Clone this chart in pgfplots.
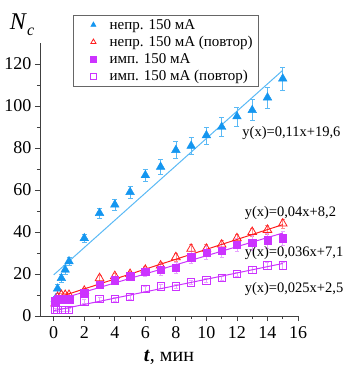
\documentclass[border=0pt]{standalone}
\usepackage{pgfplots}
\pgfplotsset{compat=1.18}
\usepackage{fontspec}
\setmainfont{Liberation Serif}
\definecolor{cblue}{RGB}{20,150,240}
\definecolor{lblue}{RGB}{90,185,245}
\definecolor{cred}{RGB}{255,30,30}
\definecolor{cmag}{RGB}{204,51,255}
\begin{document}
\begin{tikzpicture}[x=1pt,y=1pt]
\begin{axis}[
  scale only axis, width=258pt, height=273pt,
  xmin=-0.9, xmax=16, ymin=0, ymax=130,
  axis x line*=bottom, axis y line*=left,
  axis line style={black!75, line width=0.8pt},
  xtick={0,2,...,16}, ytick={0,20,...,120},
  xticklabels={0,2,4,6,8,10,12,14,16},
  yticklabels={0,20,40,60,80,100,120},
  minor xtick={1,3,...,15}, minor ytick={10,30,...,110},
  tick align=outside, major tick length=5pt, minor tick length=3pt,
  tick style={black!75, line width=0.8pt},
  ticklabel style={font=\fontsize{18}{20}\selectfont},
  xticklabel style={yshift=-2pt},
  xlabel={\textbf{\textit{t}}, мин},
  xlabel style={font=\fontsize{20}{22}\selectfont, yshift=-5pt},
  clip=false,
  legend cell align=left,
  legend style={at={(0.128,1.103)}, anchor=north west, draw=black!60,
    font=\fontsize{15}{18}\selectfont, row sep=1.5pt, inner xsep=4pt,
    inner ysep=2pt, /tikz/every even column/.append style={column sep=5pt}},
  legend image code/.code={\path (0pt,0pt) (30pt,0pt); \draw[#1, mark size=3pt] plot coordinates {(16pt,0pt)};},
]
% blue filled triangles
\addplot[only marks, mark=triangle*, mark size=5pt, color=cblue,
  error bars/.cd, y dir=both, y explicit,
  error bar style={lblue, line width=0.6pt}, error mark options={lblue, mark size=2.5pt, rotate=90}]
  table[x=x, y=y, y error=e] {
x y e
0.1 8 1.5
0.25 13 2
0.5 18 2
0.75 22 2
1 26 2
2 37 2
3 49 2.5
4 53 2.5
5 59 3
6 67 3
7 71 3.5
8 79 4
9 81 4
10 86 4
11 90 4.5
12 95 4.5
13 98 5
14 104 5
15 113 5.5
};
\addlegendentry{непр. 150 мА}
% red open triangles
\addplot[only marks, mark=triangle, mark size=5pt, color=cred, mark options={line width=0.8pt},
  error bars/.cd, y dir=both, y explicit,
  error bar style={cred!50, line width=0.6pt}, error mark options={cred!50, mark size=2pt, rotate=90}]
  table[x=x, y=y, y error=e] {
x y e
0.1 6 1
0.25 9 1
0.5 10 1
0.75 10 1
1 10 1
2 12 1
3 18 1.5
4 19 1.5
5 20 1.5
6 22 1.5
7 24 1.5
8 28 2
9 32 2
10 32 2
11 34 2
12 37 2
13 40 2
14 41 2
15 44 2
};
\addlegendentry{непр. 150 мА (повтор)}
% magenta filled squares
\addplot[only marks, mark=square*, mark size=3.7pt, color=cmag,
  error bars/.cd, y dir=both, y explicit,
  error bar style={cmag!45, line width=0.6pt}, error mark options={cmag!45, mark size=2pt, rotate=90}]
  table[x=x, y=y, y error=e] {
x y e
0.1 7 1
0.25 8 1
0.5 8 1
0.75 8 1
1 8 1
2 11 1.5
3 15 1.5
4 17 1.5
5 19 2
6 21 2
7 22 2.5
8 23 2.5
9 28 3
10 30 3
11 31 3
12 34 3
13 35 3.5
14 36 3.5
15 37 3.5
};
\addlegendentry{имп. 150 мА}
% magenta open squares
\addplot[only marks, mark=square, mark size=3.7pt, color=cmag, mark options={line width=0.8pt},
  error bars/.cd, y dir=both, y explicit,
  error bar style={cmag!45, line width=0.6pt}, error mark options={cmag!45, mark size=2pt, rotate=90}]
  table[x=x, y=y, y error=e] {
x y e
0.1 3 0.5
0.25 3 0.5
0.5 3 0.5
0.75 3 0.5
1 3 0.5
2 7 1
3 8 1
4 8 1
5 9 1
6 13 1
7 14 1
8 14 1
9 16 1
10 17 1
11 18 1
12 20 1
13 22 1.5
14 24 1.5
15 24 1.5
};
\addlegendentry{имп. 150 мА (повтор)}
% fit lines
\addplot[lblue, line width=1pt, forget plot] coordinates {(0,19.6) (15,117)};
\addplot[cred, line width=1pt, forget plot] coordinates {(0,8.2) (15,43.5)};
\addplot[cmag, line width=1pt, forget plot] coordinates {(0,7.1) (15,39.5)};
\addplot[cmag, line width=1pt, forget plot] coordinates {(0,2.5) (15,25)};
% equation labels
\node[anchor=west, inner sep=0pt, font=\fontsize{14.5}{17}\selectfont] at (axis cs:12.35,87) {y(x)=0,11x+19,6};
\node[anchor=west, inner sep=0pt, font=\fontsize{14.5}{17}\selectfont] at (axis cs:12.5,49) {y(x)=0,04x+8,2};
\node[anchor=west, inner sep=0pt, font=\fontsize{14.5}{17}\selectfont] at (axis cs:12.5,30) {y(x)=0,036x+7,1};
\node[anchor=west, inner sep=0pt, font=\fontsize{14.5}{17}\selectfont] at (axis cs:12.5,12.8) {y(x)=0,025x+2,5};
% y label
\node[font=\fontsize{24}{26}\selectfont] at ([xshift=-18pt, yshift=18pt]rel axis cs:0,1) {\textit{N}\raisebox{-0.25em}{\fontsize{16}{18}\selectfont\textit{c}}};
\coordinate (bl) at (rel axis cs:0,0);
\coordinate (tr) at (rel axis cs:1,1);
\end{axis}
\pgfresetboundingbox
\path ([xshift=-40pt,yshift=-52pt]bl) rectangle ([xshift=49pt,yshift=43pt]tr);
\end{tikzpicture}
\end{document}
